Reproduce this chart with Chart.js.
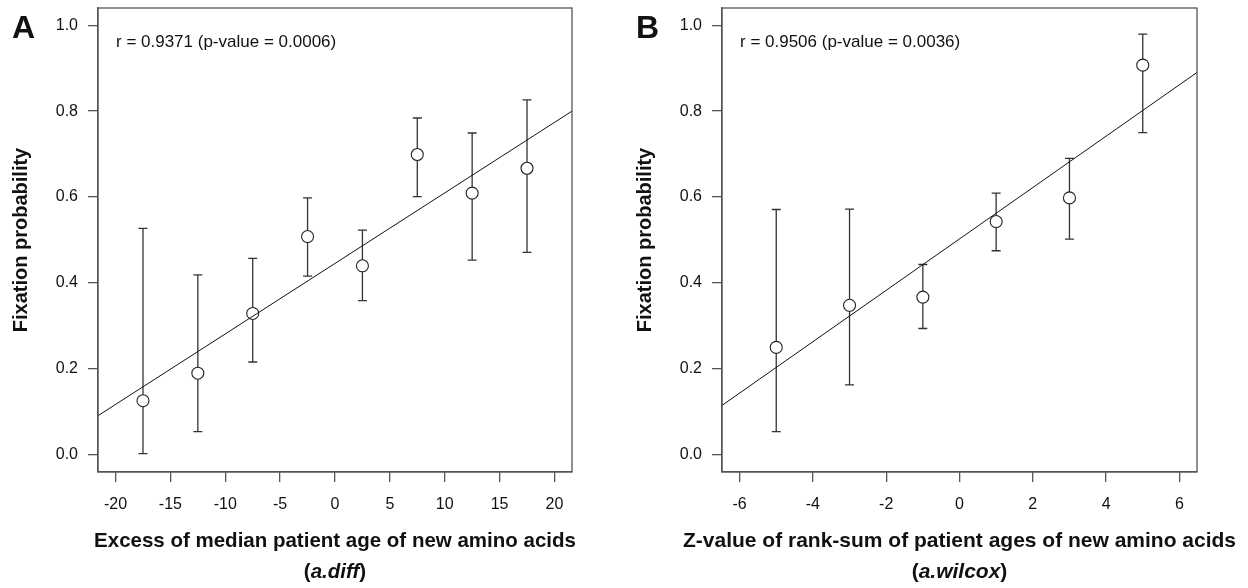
<!DOCTYPE html>
<html>
<head>
<meta charset="utf-8">
<script src="https://cdn.jsdelivr.net/npm/chart.js@4.4.1/dist/chart.umd.min.js"></script>
<style>
  html, body { margin: 0; padding: 0; background: #fff; }
  #wrap { width: 1248px; height: 588px; display: flex; }
  .panel { width: 624px; height: 588px; position: relative; }
</style>
</head>
<body>
<div id="wrap">
  <div class="panel"><canvas id="chartA"></canvas></div>
  <div class="panel"><canvas id="chartB"></canvas></div>
</div>
<script>
// panel A: excess of median patient age (a.diff)
const xA = [-17.5, -12.5, -7.5, -2.5, 2.5, 7.5, 12.5, 17.5];
const yA = [0.126, 0.190, 0.329, 0.508, 0.440, 0.699, 0.609, 0.667];
const upA = [0.527, 0.419, 0.457, 0.598, 0.523, 0.784, 0.749, 0.826];
const loA = [0.003, 0.054, 0.216, 0.416, 0.359, 0.601, 0.453, 0.471];
const fitAx = [-21.6, 21.6];   // regression line ends, read at the box edges
const fitAy = [0.091, 0.800];
const xTicksA = [-20, -15, -10, -5, 0, 5, 10, 15, 20];

// panel B: Z-value of rank-sum (a.wilcox)
const xB = [-5, -3, -1, 1, 3, 5];
const yB = [0.250, 0.348, 0.367, 0.543, 0.598, 0.907];
const upB = [0.571, 0.572, 0.443, 0.609, 0.690, 0.979];
const loB = [0.054, 0.163, 0.294, 0.475, 0.502, 0.750];
const fitBx = [-6.48, 6.48];
const fitBy = [0.115, 0.890];
const xTicksB = [-6, -4, -2, 0, 2, 4, 6];

const yTicks = [0.0, 0.2, 0.4, 0.6, 0.8, 1.0];

const FONT = "'Liberation Sans', Arial, Helvetica, sans-serif";
const INK = '#111';
const AXIS = '#555';

// open circles sit on top of the error bars, box drawn round the plot area
const boxAndBars = {
  id: 'boxAndBars',
  beforeDatasetsDraw(chart, args, opts) {
    const ctx = chart.ctx;
    const xs = chart.scales.x, ys = chart.scales.y;
    ctx.save();
    ctx.strokeStyle = '#333';
    ctx.lineWidth = 1.3;
    for (let i = 0; i < opts.x.length; i++) {
      const px = xs.getPixelForValue(opts.x[i]);
      const pu = ys.getPixelForValue(opts.up[i]);
      const pl = ys.getPixelForValue(opts.lo[i]);
      ctx.beginPath();
      ctx.moveTo(px, pu); ctx.lineTo(px, pl);
      ctx.moveTo(px - 4.5, pu); ctx.lineTo(px + 4.5, pu);
      ctx.moveTo(px - 4.5, pl); ctx.lineTo(px + 4.5, pl);
      ctx.stroke();
    }
    ctx.restore();
  },
  afterDraw(chart, args, opts) {
    const ctx = chart.ctx;
    const a = chart.chartArea;
    const mid = (a.left + a.right) / 2;
    ctx.save();
    ctx.strokeStyle = AXIS;
    ctx.lineWidth = 1.3;
    ctx.strokeRect(a.left, a.top, a.right - a.left, a.bottom - a.top);

    // panel letter
    ctx.fillStyle = INK;
    ctx.textBaseline = 'alphabetic';
    ctx.textAlign = 'left';
    ctx.font = 'bold 32px ' + FONT;
    ctx.fillText(opts.letter, 12, 38);

    // correlation note
    ctx.font = '17px ' + FONT;
    ctx.fillText(opts.note, a.left + 18, 47);

    // x title, first line (may run wider than the plot box)
    const f = opts.titleSize + 'px ' + FONT;
    ctx.font = 'bold ' + f;
    ctx.textAlign = 'center';
    ctx.fillText(opts.title, mid, 547);

    // second line: "(" bold, name bold italic, ")" bold
    ctx.textAlign = 'left';
    const wOpen = ctx.measureText('(').width;
    const wClose = ctx.measureText(')').width;
    ctx.font = 'italic bold ' + f;
    const wName = ctx.measureText(opts.sub).width;
    const x0 = mid - (wOpen + wName + wClose) / 2;
    ctx.font = 'bold ' + f;
    ctx.fillText('(', x0, 578);
    ctx.font = 'italic bold ' + f;
    ctx.fillText(opts.sub, x0 + wOpen, 578);
    ctx.font = 'bold ' + f;
    ctx.fillText(')', x0 + wOpen + wName, 578);
    ctx.restore();
  }
};

function makeChart(id, xs, ys, up, lo, fitX, fitY, xTicks, xMin, xMax, title, sub, letter, note, padRight, titleSize) {
  const points = xs.map((v, i) => ({ x: v, y: ys[i] }));
  const fit = fitX.map((v, i) => ({ x: v, y: fitY[i] }));
  return new Chart(document.getElementById(id), {
    type: 'scatter',
    data: {
      datasets: [
        {
          type: 'line',
          data: fit,
          borderColor: '#111',
          borderWidth: 1,
          pointRadius: 0,
          fill: false,
          order: 0
        },
        {
          data: points,
          pointStyle: 'circle',
          pointRadius: 6,
          pointHoverRadius: 6,
          borderColor: '#222',
          borderWidth: 1.1,
          backgroundColor: '#fff',
          order: 1
        }
      ]
    },
    options: {
      responsive: true,
      maintainAspectRatio: false,
      animation: false,
      events: [],
      layout: { padding: { left: 0, right: padRight, top: 8, bottom: 0 } },
      plugins: {
        legend: { display: false },
        tooltip: { enabled: false },
        boxAndBars: { x: xs, up: up, lo: lo, letter: letter, note: note, title: title, sub: sub, titleSize: titleSize }
      },
      scales: {
        x: {
          type: 'linear',
          min: xMin,
          max: xMax,
          afterFit: s => { s.height = 116; s.paddingLeft = 0; s.paddingRight = 0; },
          afterBuildTicks: s => { s.ticks = xTicks.map(v => ({ value: v })); },
          grid: { drawOnChartArea: false, drawTicks: true, tickLength: 10, color: AXIS, lineWidth: 1.3 },
          border: { display: true, color: AXIS, width: 1.3 },
          ticks: { color: INK, font: { family: FONT, size: 16 }, padding: 13, maxRotation: 0 },
          title: { display: false }
        },
        y: {
          type: 'linear',
          min: -0.04,
          max: 1.04,
          afterFit: s => { s.width = 98; s.paddingTop = 0; s.paddingBottom = 0; },
          afterBuildTicks: s => { s.ticks = yTicks.map(v => ({ value: v })); },
          grid: { drawOnChartArea: false, drawTicks: true, tickLength: 10, color: AXIS, lineWidth: 1.3 },
          border: { display: true, color: AXIS, width: 1.3 },
          ticks: {
            color: INK,
            font: { family: FONT, size: 16 },
            padding: 10,
            callback: v => v.toFixed(1)
          },
          title: {
            display: true,
            text: 'Fixation probability',
            color: INK,
            font: { family: FONT, size: 20, weight: 'bold' },
            padding: { top: 9, bottom: 0 }
          }
        }
      }
    },
    plugins: [boxAndBars]
  });
}

makeChart('chartA', xA, yA, upA, loA, fitAx, fitAy, xTicksA, -21.6, 21.6,
  'Excess of median patient age of new amino acids', 'a.diff', 'A',
  'r = 0.9371 (p-value = 0.0006)', 52, 20.5);
makeChart('chartB', xB, yB, upB, loB, fitBx, fitBy, xTicksB, -6.48, 6.48,
  'Z-value of rank-sum of patient ages of new amino acids', 'a.wilcox', 'B',
  'r = 0.9506 (p-value = 0.0036)', 51, 21);
</script>
</body>
</html>
